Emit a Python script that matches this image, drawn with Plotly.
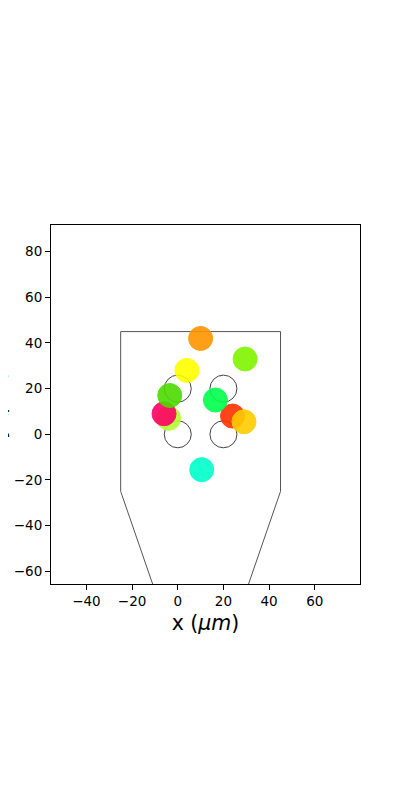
import plotly.graph_objects as go

# probe outline
probe_x = [-25, 45, 45, 10, -25, -25]
probe_y = [45, 45, -25, -126.5, -25, 45]

# recording sites
site_x = [0, 20, 0, 20]
site_y = [0, 0, 20, 20]

# units, back to front
unit_x = [10.5, 24, 29, -4, -6, 16.5, -3.5, 4, 29.5, 10]
unit_y = [-15.5, 8, 5.5, 7, 9, 15, 17, 28, 33, 42]
unit_colors = ["#00ffcc", "#ff3300", "#ffcc00", "#b3ff33", "#ff0066",
               "#00ff4d", "#4ddb00", "#ffff00", "#80f500", "#ff9500"]

x_ticks = [-40, -20, 0, 20, 40, 60]
y_ticks = [-60, -40, -20, 0, 20, 40, 60, 80]

fig = go.Figure()

fig.add_trace(go.Scatter(x=probe_x, y=probe_y, mode="lines",
                         line=dict(color="#555555", width=1), hoverinfo="skip"))
fig.add_trace(go.Scatter(x=site_x, y=site_y, mode="markers",
                         marker=dict(size=27, color="rgba(0,0,0,0)",
                                     line=dict(color="#444444", width=1)),
                         hoverinfo="skip"))
for x, y, c in zip(unit_x, unit_y, unit_colors):
    fig.add_trace(go.Scatter(x=[x], y=[y], mode="markers",
                             marker=dict(size=24, color=c, opacity=0.9,
                                         line=dict(color=c, width=1))))

axis_style = dict(showgrid=False, zeroline=False, showline=True, mirror=True,
                  automargin=False,
                  linecolor="black", linewidth=1, ticks="outside", ticklen=5,
                  tickwidth=1, tickcolor="black",
                  tickfont=dict(family="DejaVu Sans", size=13.5, color="black"))

fig.update_xaxes(range=[-55.5, 79.8], tickvals=x_ticks,
                 title=dict(text="x (<i>μm</i>)", standoff=7,
                            font=dict(family="DejaVu Sans", size=20.5, color="black")),
                 **axis_style)
fig.update_yaxes(range=[-65.6, 91.7], tickvals=y_ticks, **axis_style)

# the y label runs off the left edge of the page, as in the original
fig.add_annotation(text="y (<i>μm</i>)", xref="paper", yref="paper", x=0, y=0.5,
                   xshift=-40, xanchor="right", yanchor="middle", textangle=-90,
                   showarrow=False, font=dict(family="DejaVu Sans", size=20.5, color="black"))

# the page body adds 8px on the left and top
fig.update_layout(width=400, height=800, showlegend=False,
                  paper_bgcolor="white", plot_bgcolor="white",
                  margin=dict(l=42.5, r=48, t=216.5, b=224))

fig.write_html("out.html")
